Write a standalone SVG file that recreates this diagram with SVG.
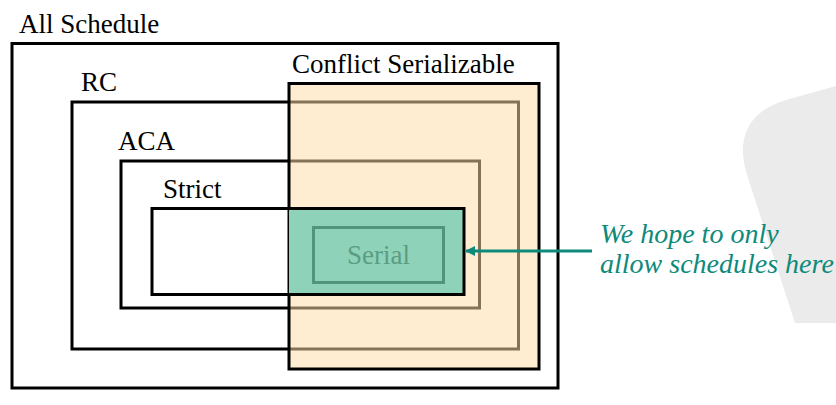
<svg xmlns="http://www.w3.org/2000/svg" width="836" height="405" viewBox="0 0 836 405">
<defs>
<style>
.lbl{font-family:"Liberation Serif","DejaVu Serif",serif;font-size:27px;fill:#000}
.box{fill:none;stroke:#000;stroke-width:3}
.note{font-family:"Liberation Serif","DejaVu Serif",serif;font-size:28px;font-style:italic;fill:#0E8A7B}
</style>
<marker id="ah" markerWidth="10" markerHeight="10" refX="9" refY="5" orient="auto" markerUnits="userSpaceOnUse">
<path d="M0,0 L10,5 L0,10 Z" fill="#0E8A7B"/>
</marker>
</defs>
<rect width="836" height="405" fill="#fff"/>
<path d="M836,86 L786,100 Q746,112 743,146 Q742,160 748,178 L795,323 L836,323 Z" fill="#EBEBEB"/>
<g id="all">
<rect class="box" x="12" y="43.5" width="546" height="344.5"/>
<text class="lbl" x="19" y="33">All Schedule</text>
</g>
<g id="rc">
<rect class="box" x="72" y="102" width="446.5" height="247"/>
<text class="lbl" x="81" y="91">RC</text>
</g>
<g id="aca">
<rect class="box" x="121" y="161" width="358.5" height="147"/>
<text class="lbl" x="118" y="150">ACA</text>
</g>
<g id="conflict">
<rect x="289" y="83.5" width="250" height="285.5" fill="#FFDDA9" fill-opacity="0.52"/>
<rect class="box" x="289" y="83.5" width="250" height="285.5"/>
<text class="lbl" x="292" y="73">Conflict Serializable</text>
</g>
<g id="strict">
<rect x="289" y="208.5" width="175" height="86" fill="#8FD2BA"/>
<rect class="box" x="152" y="208.5" width="312" height="86"/>
<text class="lbl" x="163" y="198">Strict</text>
</g>
<g id="serial">
<rect x="313.5" y="227.5" width="130" height="55" fill="none" stroke="#4F967A" stroke-width="3"/>
<text class="lbl" x="378.5" y="264" text-anchor="middle" style="fill:#5B9D82">Serial</text>
</g>
<g id="connectors">
<line x1="592" y1="251" x2="466" y2="251" stroke="#0E8A7B" stroke-width="3" marker-end="url(#ah)"/>
</g>
<g id="note">
<text class="note" x="600" y="243">We hope to only</text>
<text class="note" x="600" y="273">allow schedules here</text>
</g>
</svg>
